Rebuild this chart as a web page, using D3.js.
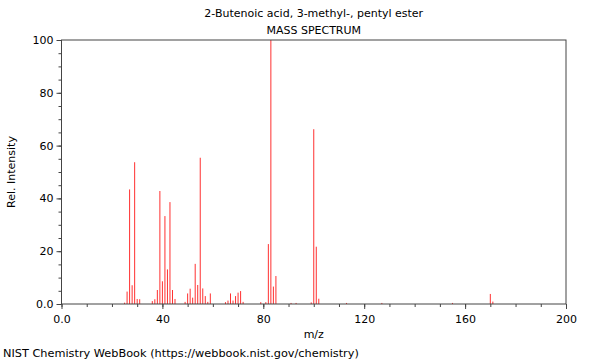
<!DOCTYPE html>
<meta charset="utf-8">
<script src="https://cdn.jsdelivr.net/npm/d3@7"></script>
<style>
body { margin: 0; background: #fff; }
text { font-family: "DejaVu Sans", sans-serif; fill: #000; }
.axis path { display: none; }
.axis line { stroke: #444; }
.axis text { font-size: 11px; }
</style>
<body>
<script>

var title = "2-Butenoic acid, 3-methyl-, pentyl ester";
var subtitle = "MASS SPECTRUM";

// m/z and relative intensity
var mz = [25, 26, 27, 28, 29, 30, 31, 36, 37, 38, 39, 40, 41, 42, 43, 44, 45,
          49, 50, 51, 52, 53, 54, 55, 56, 57, 58, 59, 65, 66, 67, 68, 69, 70, 71, 72,
          79, 81, 82, 83, 84, 85, 91, 93, 99, 100, 101, 102, 113, 127, 155, 170, 171];
var intensity = [0.5, 4.7, 43.4, 7.1, 53.7, 1.9, 1.8, 1.1, 1.8, 5.3, 42.8, 8.6, 33.3, 13.1, 38.6, 5.3, 1.9,
                 0.8, 4.0, 5.8, 2.4, 15.2, 7.2, 55.4, 5.9, 3.0, 0.8, 4.0, 0.7, 1.3, 4.0, 1.3, 3.0, 4.3, 4.9, 0.8,
                 0.7, 0.7, 22.7, 100, 6.6, 10.6, 0.4, 0.4, 0.6, 66.2, 21.7, 2.0, 0.4, 0.4, 0.4, 3.8, 0.9];

var xTicks = [0, 40, 80, 120, 160, 200];
var yTicks = [0, 20, 40, 60, 80, 100];

var width = 600, height = 360;
var mLeft = 61.5, mRight = 566, mTop = 40, mBottom = 304;

var svg = d3.select("body").append("svg")
    .attr("width", width)
    .attr("height", height);

var x = d3.scaleLinear().domain([0, 200]).range([mLeft, mRight]);
var y = d3.scaleLinear().domain([0, 100]).range([mBottom, mTop]);

var fmt = function(d) { return d === 0 ? "0.0" : d; };

// minor ticks
svg.append("g").attr("class", "axis")
    .attr("transform", "translate(0," + mBottom + ")")
    .call(d3.axisBottom(x).tickValues(d3.range(0, 201, 10)).tickSize(3).tickFormat(""));
svg.append("g").attr("class", "axis")
    .attr("transform", "translate(" + mLeft + ",0)")
    .call(d3.axisLeft(y).tickValues(d3.range(0, 101, 5)).tickSize(3).tickFormat(""));

// major ticks
svg.append("g").attr("class", "axis")
    .attr("transform", "translate(0," + mBottom + ")")
    .call(d3.axisBottom(x).tickValues(xTicks).tickSize(5).tickPadding(6).tickFormat(fmt));
svg.append("g").attr("class", "axis")
    .attr("transform", "translate(" + mLeft + ",0)")
    .call(d3.axisLeft(y).tickValues(yTicks).tickSize(5).tickPadding(3).tickFormat(fmt));

// peaks
svg.append("g")
  .selectAll("line")
  .data(mz)
  .enter().append("line")
    .attr("x1", function(d) { return x(d); })
    .attr("x2", function(d) { return x(d); })
    .attr("y1", y(0))
    .attr("y2", function(d, i) { return y(intensity[i]); })
    .style("stroke", "#ff3030")
    .style("stroke-width", 1);

// frame
svg.append("rect")
    .attr("x", mLeft).attr("y", mTop)
    .attr("width", mRight - mLeft).attr("height", mBottom - mTop)
    .style("fill", "none")
    .style("stroke", "#444")
    .style("stroke-width", 1);

svg.append("text")
    .attr("x", (mLeft + mRight) / 2).attr("y", 17)
    .attr("text-anchor", "middle")
    .style("font-size", "11px")
    .text(title);
svg.append("text")
    .attr("x", (mLeft + mRight) / 2).attr("y", 34)
    .attr("text-anchor", "middle")
    .style("font-size", "11px")
    .text(subtitle);

svg.append("text")
    .attr("x", (mLeft + mRight) / 2).attr("y", 338)
    .attr("text-anchor", "middle")
    .style("font-size", "11px")
    .text("m/z");

svg.append("text")
    .attr("transform", "translate(15," + (mTop + mBottom) / 2 + ") rotate(-90)")
    .attr("text-anchor", "middle")
    .style("font-size", "11px")
    .text("Rel. Intensity");

svg.append("text")
    .attr("x", 3).attr("y", 357)
    .style("font-size", "11.3px")
    .text("NIST Chemistry WebBook (https://webbook.nist.gov/chemistry)");

</script>
</body>
